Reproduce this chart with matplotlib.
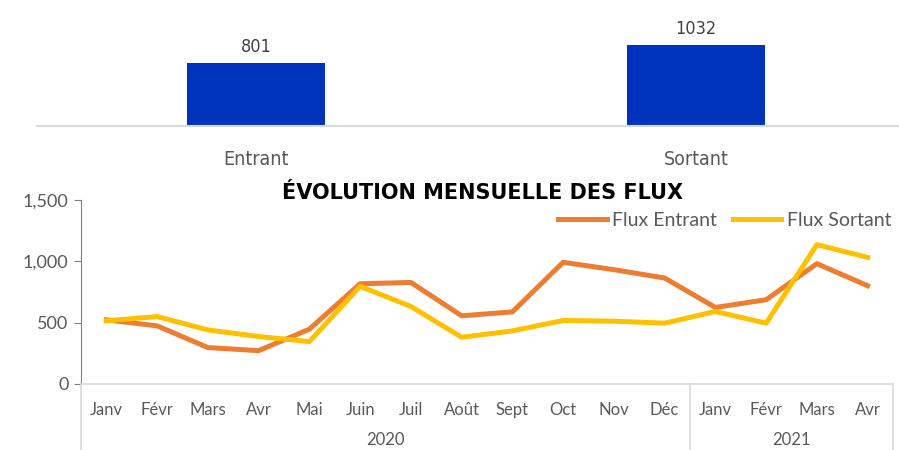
import matplotlib
matplotlib.use("Agg")
import matplotlib.pyplot as plt
import matplotlib.transforms as mtransforms
from matplotlib import font_manager

# totals shown in the top bar chart
bar_labels = ["Entrant", "Sortant"]
bar_values = [801, 1032]

# monthly flows
months = ["Janv", "Févr", "Mars", "Avr", "Mai", "Juin", "Juil", "Août", "Sept", "Oct", "Nov", "Déc",
          "Janv", "Févr", "Mars", "Avr"]
years = ["2020", "2021"]
year_counts = [12, 4]
flux_entrant = [523, 474, 297, 272, 447, 817, 828, 556, 588, 992, 932, 864, 624, 687, 981, 801]
flux_sortant = [515, 550, 441, 387, 346, 796, 632, 381, 433, 518, 512, 496, 591, 496, 1136, 1032]

orange = "#ED7D31"
yellow = "#FFC000"
blue = "#0033BB"
grey_txt = "#595959"
gill = ["Lato", "DejaVu Sans"]

# look for an upright narrow face for the top chart
narrow_fp = None
for f in font_manager.fontManager.ttflist:
    if ("Condensed" in f.fname or "Narrow" in f.fname) and f.style == "normal" \
            and f.weight in ("normal", 400, "regular") and "Bold" not in f.fname:
        narrow_fp = f.fname
        break

fig = plt.figure(figsize=(8.99, 4.5), dpi=100)

# ---- top bar chart
ax1 = fig.add_axes([37 / 899, 1 - 126 / 450, 1 - 37 / 899, 116 / 450])
x1 = list(range(len(bar_values)))
bars = ax1.bar(x1, bar_values, width=0.314, color=blue)
if narrow_fp:
    fp_lab = font_manager.FontProperties(fname=narrow_fp, size=13)
    fp_cat = font_manager.FontProperties(fname=narrow_fp, size=14)
else:
    fp_lab = font_manager.FontProperties(family="DejaVu Sans", size=11.5)
    fp_cat = font_manager.FontProperties(family="DejaVu Sans", size=12.5)
ax1.bar_label(bars, labels=[str(v) for v in bar_values], padding=5, color="#404040",
              fontproperties=fp_lab)
ax1.set_xlim(-0.498, 1.461)
ax1.set_ylim(0, 1478)
ax1.set_yticks([])
ax1.set_xticks(x1)
ax1.set_xticklabels(bar_labels, color=grey_txt, fontproperties=fp_cat)
ax1.tick_params(axis="x", length=0, pad=17)
for s in ["top", "right", "left"]:
    ax1.spines[s].set_visible(False)
ax1.spines["bottom"].set_color("#D9D9D9")
ax1.spines["bottom"].set_linewidth(1.5)

# ---- bottom line chart
ax2 = fig.add_axes([81 / 899, 1 - 384 / 450, (893 - 81) / 899, 184 / 450])
x2 = list(range(len(months)))
ax2.plot(x2, flux_entrant, color=orange, lw=3.6, label="Flux Entrant", solid_joinstyle="round")
ax2.plot(x2, flux_sortant, color=yellow, lw=3.6, label="Flux Sortant", solid_joinstyle="round")
ax2.set_xlim(-0.5, len(months) - 0.5)
ax2.set_ylim(0, 1500)
ax2.set_yticks([0, 500, 1000, 1500])
ax2.set_yticklabels(["0", "500", "1,000", "1,500"], fontsize=13, color=grey_txt, family=gill)
ax2.tick_params(axis="y", length=5, color="#808080", pad=4)
ax2.set_xticks(x2)
ax2.set_xticklabels(months, fontsize=12, color=grey_txt, family=gill)
ax2.tick_params(axis="x", length=0, pad=13)
ax2.spines["top"].set_visible(False)
ax2.spines["right"].set_visible(False)
ax2.spines["left"].set_color("#808080")
ax2.spines["bottom"].set_color("#D9D9D9")
ax2.spines["bottom"].set_linewidth(1.2)

# year group separators and labels
trans = mtransforms.blended_transform_factory(ax2.transData, ax2.transAxes)
low = -(450 - 384) / 184
start = 0
edges = [-0.5]
for c in year_counts:
    start += c
    edges.append(start - 0.5)
for e in edges:
    ax2.plot([e, e], [0, low], transform=trans, color="#D9D9D9", lw=1.2, clip_on=False)
start = 0
for yr, c in zip(years, year_counts):
    ax2.text(start + (c - 1) / 2, -(440 - 384) / 184, yr, transform=trans, ha="center", va="center",
             fontsize=12, color=grey_txt, family=gill)
    start += c

fig.text(483 / 899, 1 - 193 / 450, "ÉVOLUTION MENSUELLE DES FLUX", ha="center", va="center",
         fontsize=15, fontweight="bold", color="black", family="DejaVu Sans")
fig.legend(loc="center right", bbox_to_anchor=(0.992, 1 - 220 / 450), ncol=2, frameon=False,
           handlelength=2.5, handletextpad=0.3, columnspacing=0.8,
           borderpad=0, borderaxespad=0, labelcolor=grey_txt, prop={"family": gill, "size": 14})

fig.savefig("out.png", dpi=100)
